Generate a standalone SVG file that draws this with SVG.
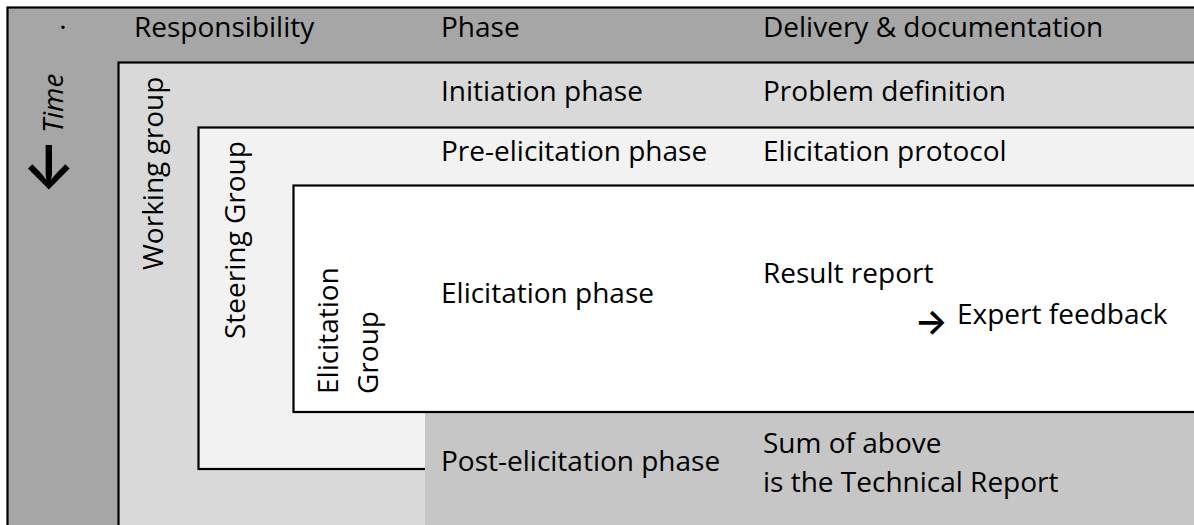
<svg xmlns="http://www.w3.org/2000/svg" width="1194" height="525" viewBox="0 0 1194 525">
<style>
  .t { font-family: "Open Sans", "Liberation Sans", sans-serif; font-size: 28px; fill: #000; }
  .box { stroke: #000; stroke-width: 2.2; }
  .arr { font-family: "Inter", "DejaVu Sans", sans-serif; fill: #000; }
</style>
<rect width="1194" height="525" fill="#ffffff"/>
<g id="frame">
  <rect class="box" x="7.5" y="7.5" width="1200" height="530" fill="#a6a6a6"/>
  <text class="t" x="63" y="37" text-anchor="middle">·</text>
  <text class="t" x="134" y="37">Responsibility</text>
  <text class="t" x="441" y="37">Phase</text>
  <text class="t" x="763" y="37">Delivery &amp; documentation</text>
</g>
<g id="time-axis">
  <text class="arr" font-size="61" font-weight="600" text-anchor="middle" transform="translate(68,166.5) rotate(-90)">←</text>
  <text class="t" font-style="italic" transform="translate(63,133) rotate(-90)">Time</text>
</g>
<g id="working-group">
  <rect class="box" x="118.5" y="62.5" width="1100" height="480" fill="#d9d9d9"/>
  <text class="t" transform="translate(163,270) rotate(-90)">Working group</text>
  <text class="t" x="441" y="101">Initiation phase</text>
  <text class="t" x="763" y="101">Problem definition</text>
</g>
<g id="steering-group">
  <rect class="box" x="198.5" y="127.5" width="1100" height="341.5" fill="#f2f2f2"/>
  <text class="t" transform="translate(245,339) rotate(-90)">Steering Group</text>
  <text class="t" x="441" y="161">Pre-elicitation phase</text>
  <text class="t" x="763" y="161">Elicitation protocol</text>
</g>
<g id="post-elicitation">
  <rect x="425" y="412" width="800" height="120" fill="#c6c6c6"/>
  <text class="t" x="441" y="471">Post-elicitation phase</text>
  <text class="t" x="763" y="453">Sum of above</text>
  <text class="t" x="763" y="492">is the Technical Report</text>
</g>
<g id="elicitation-group">
  <rect class="box" x="293.5" y="185.5" width="1000" height="226.5" fill="#ffffff"/>
  <text class="t" transform="translate(338,394) rotate(-90)">Elicitation</text>
  <text class="t" transform="translate(378,394) rotate(-90)">Group</text>
  <text class="t" x="441" y="303">Elicitation phase</text>
  <text class="t" x="763" y="283">Result report</text>
  <text class="arr" x="914.5" y="333.5" font-size="35" font-weight="600">→</text>
  <text class="t" x="957" y="324">Expert feedback</text>
</g>
<g id="connectors"></g>
</svg>
